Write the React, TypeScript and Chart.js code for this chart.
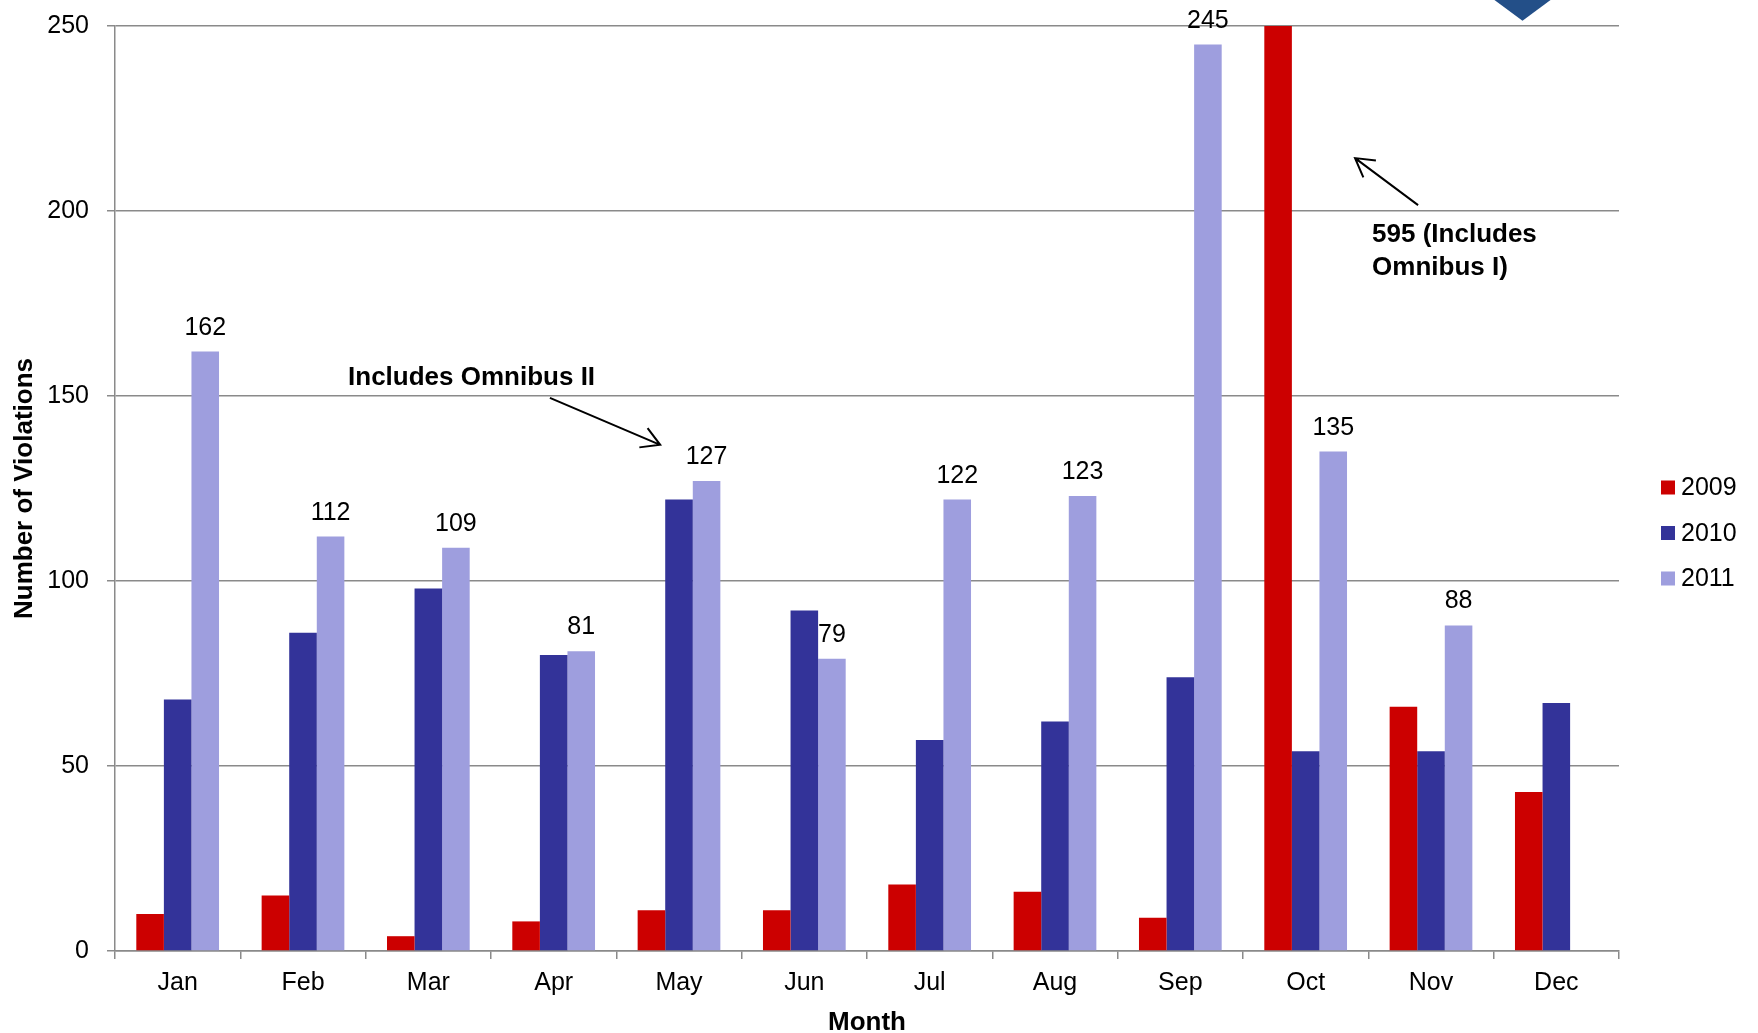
import React, { useEffect, useRef } from 'react';
import { Chart, registerables } from 'chart.js';

Chart.register(...registerables);

const months = ['Jan', 'Feb', 'Mar', 'Apr', 'May', 'Jun', 'Jul', 'Aug', 'Sep', 'Oct', 'Nov', 'Dec'];
const violations2009 = [10, 15, 4, 8, 11, 11, 18, 16, 9, 595, 66, 43];
const violations2010 = [68, 86, 98, 80, 122, 92, 57, 62, 74, 54, 54, 67];
const violations2011: (number | null)[] = [162, 112, 109, 81, 127, 79, 122, 123, 245, 135, 88, null];
const seriesNames = ['2009', '2010', '2011'];
const seriesColors = ['#cc0000', '#333399', '#9e9ede'];
const yMin = 0;
const yMax = 250;
const yStep = 50;
const xTitle = 'Month';
const yTitle = 'Number of Violations';

// Annotations: positions in data space (category index, value)
const noteOmnibus2Text = ['Includes Omnibus II'];
const noteOmnibus2TextAt = [2.345, 155.0];
const noteOmnibus2Arrow = [2.97, 149.5, 3.85, 136.8];
const noteOmnibus1Text = ['595 (Includes', 'Omnibus I)'];
const noteOmnibus1TextAt = [9.53, 193.6];
const noteOmnibus1Arrow = [9.897, 201.6, 9.394, 214.3];
const diamondTipAt = [10.73, 251.4];

const FONT = '"Liberation Sans", Arial, Helvetica, sans-serif';
const GRID = '#8a8a8a';

function drawArrow(ctx: CanvasRenderingContext2D, x1: number, y1: number, x2: number, y2: number) {
  const ang = Math.atan2(y2 - y1, x2 - x1);
  const len = 21;
  const spread = Math.PI / 6;
  ctx.beginPath();
  ctx.moveTo(x1, y1);
  ctx.lineTo(x2, y2);
  ctx.moveTo(x2 - len * Math.cos(ang - spread), y2 - len * Math.sin(ang - spread));
  ctx.lineTo(x2, y2);
  ctx.lineTo(x2 - len * Math.cos(ang + spread), y2 - len * Math.sin(ang + spread));
  ctx.stroke();
}

const overlayPlugin = {
  id: 'overlay',
  afterDatasetsDraw(chart: any) {
    const { ctx, chartArea, scales } = chart;
    const xs = scales.x;
    const ys = scales.y;
    ctx.save();

    // value labels on 2011 bars
    const meta = chart.getDatasetMeta(2);
    ctx.font = `25px ${FONT}`;
    ctx.fillStyle = '#000';
    ctx.textAlign = 'center';
    ctx.textBaseline = 'alphabetic';
    meta.data.forEach((bar: any, i: number) => {
      const v = violations2011[i];
      if (v == null) return;
      ctx.fillText(String(v), bar.x, bar.y - 17);
    });

    // annotations
    ctx.font = `bold 26px ${FONT}`;
    ctx.textBaseline = 'middle';
    ctx.textAlign = 'center';
    noteOmnibus2Text.forEach((t, i) => {
      ctx.fillText(t, xs.getPixelForValue(noteOmnibus2TextAt[0]), ys.getPixelForValue(noteOmnibus2TextAt[1]) + i * 33);
    });
    ctx.textAlign = 'left';
    noteOmnibus1Text.forEach((t, i) => {
      ctx.fillText(t, xs.getPixelForValue(noteOmnibus1TextAt[0]), ys.getPixelForValue(noteOmnibus1TextAt[1]) + i * 33);
    });
    ctx.strokeStyle = '#000';
    ctx.lineWidth = 2;
    drawArrow(
      ctx,
      xs.getPixelForValue(noteOmnibus2Arrow[0]), ys.getPixelForValue(noteOmnibus2Arrow[1]),
      xs.getPixelForValue(noteOmnibus2Arrow[2]), ys.getPixelForValue(noteOmnibus2Arrow[3])
    );
    drawArrow(
      ctx,
      xs.getPixelForValue(noteOmnibus1Arrow[0]), ys.getPixelForValue(noteOmnibus1Arrow[1]),
      xs.getPixelForValue(noteOmnibus1Arrow[2]), ys.getPixelForValue(noteOmnibus1Arrow[3])
    );

    // decorative diamond corner at top
    const tx = xs.getPixelForValue(diamondTipAt[0]);
    const ty = ys.getPixelForValue(diamondTipAt[1]);
    const k = 29 / 21;
    ctx.fillStyle = '#234f88';
    ctx.beginPath();
    ctx.moveTo(tx - ty * k - 2, -2);
    ctx.lineTo(tx + ty * k + 2, -2);
    ctx.lineTo(tx, ty);
    ctx.closePath();
    ctx.fill();

    // legend
    const cy = (chartArea.top + chartArea.bottom) / 2 - 1;
    const lx = chartArea.right + 42;
    ctx.font = `25px ${FONT}`;
    ctx.textAlign = 'left';
    ctx.textBaseline = 'middle';
    chart.data.datasets.forEach((ds: any, i: number) => {
      const yy = cy + i * 45.5;
      ctx.fillStyle = ds.backgroundColor;
      ctx.fillRect(lx, yy - 7, 14, 14);
      ctx.fillStyle = '#000';
      ctx.fillText(ds.label, lx + 20, yy + 1);
    });

    ctx.restore();
  },
};

export default function App() {
  const canvasRef = useRef<HTMLCanvasElement | null>(null);

  useEffect(() => {
    document.body.style.margin = '0';
    const canvas = canvasRef.current;
    if (!canvas) return;
    const seriesData = [violations2009, violations2010, violations2011];
    const chart = new Chart(canvas, {
      type: 'bar',
      data: {
        labels: months,
        datasets: seriesNames.map((name, i) => ({
          label: name,
          data: seriesData[i] as any,
          backgroundColor: seriesColors[i],
          borderWidth: 0,
          categoryPercentage: 0.66,
          barPercentage: 1.0,
          clip: 0 as any,
        })),
      },
      options: {
        animation: false,
        responsive: true,
        maintainAspectRatio: false,
        layout: { padding: { left: 0, top: 26, right: 139, bottom: 0 } },
        plugins: {
          legend: { display: false },
          tooltip: { enabled: false },
        },
        scales: {
          x: {
            grid: {
              drawOnChartArea: false,
              drawTicks: true,
              tickLength: 8,
              color: GRID,
              lineWidth: 1.5,
              offset: true,
            },
            border: { color: GRID, width: 1.5 },
            ticks: { color: '#000', padding: 9, font: { family: FONT, size: 25 } },
            title: {
              display: true,
              text: xTitle,
              color: '#000',
              font: { family: FONT, size: 26, weight: 'bold' },
              padding: { top: 0, bottom: -5 },
            },
            afterFit(scale: any) {
              scale.height = 82;
            },
          },
          y: {
            min: yMin,
            max: yMax,
            grid: { color: GRID, lineWidth: 1.5, tickLength: 8, drawTicks: true },
            border: { color: GRID, width: 1.5 },
            ticks: { stepSize: yStep, color: '#000', padding: 18, font: { family: FONT, size: 25 } },
            title: {
              display: true,
              text: yTitle,
              color: '#000',
              font: { family: FONT, size: 26, weight: 'bold' },
              padding: { top: 9, bottom: 0 },
            },
            afterFit(scale: any) {
              scale.width = 115;
              scale.paddingTop = 0;
              scale.paddingBottom = 0;
            },
          },
        },
      },
      plugins: [overlayPlugin],
    });
    return () => chart.destroy();
  }, []);

  return (
    <div style={{ position: 'fixed', left: 0, top: 0, width: 1758, height: 1033, background: '#fff' }}>
      <canvas ref={canvasRef} />
    </div>
  );
}
